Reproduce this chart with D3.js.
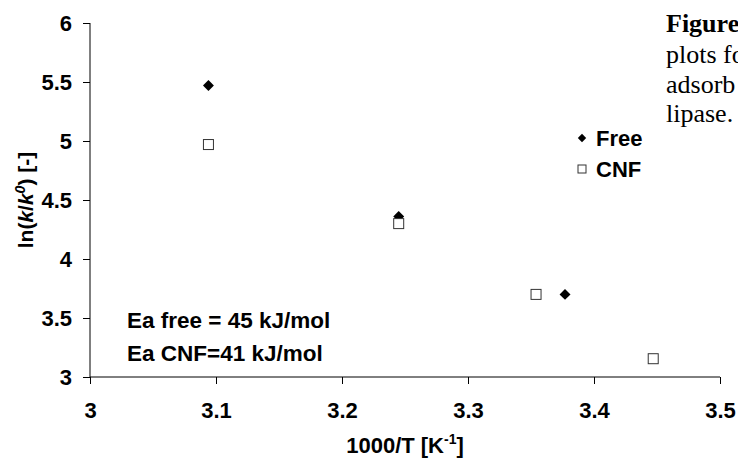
<!DOCTYPE html>
<html>
<head>
  <meta charset="utf-8">
  <title>Arrhenius plot</title>
  <script src="https://d3js.org/d3.v7.min.js"></script>
  <style>
  body { margin: 0; background: white; }
  text { font-family: Arial, "Liberation Sans", sans-serif; font-weight: bold; fill: black; }
  .axis path, .axis line { stroke: black; stroke-width: 1px; }
  .caption { font-family: "Times New Roman", "Liberation Serif", serif; font-size: 26px; }
  </style>
</head>
<body>
<div id="container"></div>
<script>

// data
var freeX = [3.094, 3.245, 3.377]
var freeY = [5.47, 4.36, 3.70]
var cnfX = [3.094, 3.245, 3.354, 3.447]
var cnfY = [4.97, 4.30, 3.70, 3.155]
var xTicks = [3, 3.1, 3.2, 3.3, 3.4, 3.5]
var yTicks = [3, 3.5, 4, 4.5, 5, 5.5, 6]
var notes = ['Ea free = 45 kJ/mol', 'Ea CNF=41 kJ/mol']
var captionLines = ['plots fo', 'adsorb', 'lipase.']

const width = 738
const height = 458
const mLeft = 90, mRight = 720, mTop = 23, mBottom = 377

var svg = d3.select('#container')
  .append('svg')
  .attr('width', width)
  .attr('height', height)

var xScale = d3.scaleLinear().domain([3, 3.5]).range([mLeft, mRight])
var yScale = d3.scaleLinear().domain([3, 6]).range([mBottom, mTop])

var xAxis = d3.axisBottom(xScale).tickValues(xTicks).tickSize(7).tickSizeOuter(0)
  .tickFormat(d3.format('~g'))
var yAxis = d3.axisLeft(yScale).tickValues(yTicks).tickSize(7).tickSizeOuter(0)
  .tickFormat(d3.format('~g'))

var gx = svg.append('g')
  .attr('class', 'axis')
  .attr('transform', 'translate(0,' + mBottom + ')')
  .call(xAxis)
gx.select('.domain').attr('d', 'M' + mLeft + ',0H' + mRight)
gx.selectAll('text')
  .attr('y', 41)
  .attr('dy', 0)
  .style('font-size', '22px')
  .style('font-family', 'Arial, "Liberation Sans", sans-serif')

var gy = svg.append('g')
  .attr('class', 'axis')
  .attr('transform', 'translate(' + mLeft + ',0)')
  .call(yAxis)
gy.select('.domain').attr('d', 'M0,' + mTop + 'V' + mBottom)
gy.selectAll('text')
  .attr('x', -18)
  .attr('dy', '0.35em')
  .style('font-size', '22px')
  .style('font-family', 'Arial, "Liberation Sans", sans-serif')

// axis titles
var xt = svg.append('text')
  .attr('x', (mLeft + mRight) / 2)
  .attr('y', 453)
  .attr('text-anchor', 'middle')
  .style('font-size', '22px')
xt.append('tspan').text('1000/T [K')
xt.append('tspan').text('-1').attr('dy', -9).style('font-size', '14px')
xt.append('tspan').text(']').attr('dy', 9)

var yt = svg.append('text')
  .attr('transform', 'translate(33,' + ((mTop + mBottom) / 2) + ') rotate(-90)')
  .attr('text-anchor', 'middle')
  .style('font-size', '21px')
yt.append('tspan').text('ln(')
yt.append('tspan').text('k').style('font-style', 'italic')
yt.append('tspan').text('/')
yt.append('tspan').text('k').style('font-style', 'italic')
yt.append('tspan').text('0').style('font-style', 'italic').style('font-size', '14px').attr('dy', -8)
yt.append('tspan').text(') [-]').attr('dy', 8)

// markers
var diamond = d3.symbol().type(d3.symbolDiamond2).size(76)

svg.selectAll('.free')
  .data(freeX.map((x, i) => ({x: x, y: freeY[i]})))
  .enter()
  .append('path')
  .attr('class', 'free')
  .attr('d', diamond)
  .attr('transform', d => 'translate(' + xScale(d.x) + ',' + yScale(d.y) + ')')
  .style('fill', 'black')

svg.selectAll('.cnf')
  .data(cnfX.map((x, i) => ({x: x, y: cnfY[i]})))
  .enter()
  .append('rect')
  .attr('class', 'cnf')
  .attr('x', d => xScale(d.x) - 5)
  .attr('y', d => yScale(d.y) - 5)
  .attr('width', 10)
  .attr('height', 10)
  .style('fill', 'white')
  .style('stroke', '#333')
  .style('stroke-width', 1)

// legend
svg.append('path')
  .attr('d', d3.symbol().type(d3.symbolDiamond2).size(45))
  .attr('transform', 'translate(582,138)')
  .style('fill', 'black')
svg.append('text').attr('x', 596).attr('y', 146).style('font-size', '22px').text('Free')
svg.append('rect')
  .attr('x', 578).attr('y', 165).attr('width', 8).attr('height', 8)
  .style('fill', 'white').style('stroke', '#333')
svg.append('text').attr('x', 596).attr('y', 177).style('font-size', '22px').text('CNF')

// annotations
svg.selectAll('.note')
  .data(notes)
  .enter()
  .append('text')
  .attr('class', 'note')
  .attr('x', 127)
  .attr('y', (d, i) => 328 + i * 33)
  .style('font-size', '22.5px')
  .text(d => d)

// caption text cut off at the right edge
svg.append('text')
  .attr('class', 'caption')
  .attr('x', 666)
  .attr('y', 32)
  .text('Figure')
svg.selectAll('.capline')
  .data(captionLines)
  .enter()
  .append('text')
  .attr('class', 'caption')
  .attr('x', 666)
  .attr('y', (d, i) => 63 + i * 29.5)
  .style('font-weight', 'normal')
  .text(d => d)

</script>
</body>
</html>
